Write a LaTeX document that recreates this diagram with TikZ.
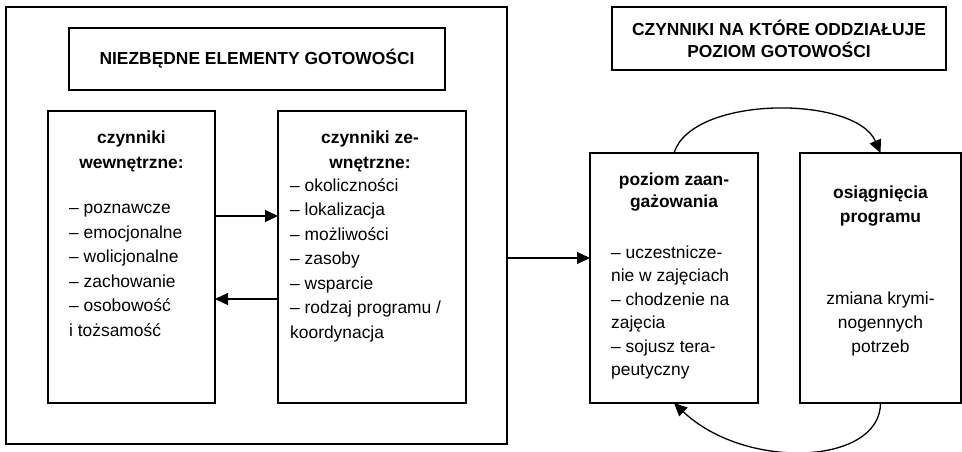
\documentclass[tikz,border=0pt]{standalone}
\usepackage{fontspec}
\setmainfont{Liberation Sans}
\usetikzlibrary{arrows.meta,positioning}

\begin{document}
\begin{tikzpicture}[x=1pt,y=-1pt,
  gotbox/.style={draw,line width=1.3pt,outer sep=0pt,inner sep=0pt},
  gotnag/.style={font=\fontsize{17.4pt}{24.5pt}\selectfont\bfseries,align=center,inner sep=0pt,anchor=base},
  gottxt/.style={font=\fontsize{17.4pt}{24.5pt}\selectfont,align=left,inner sep=0pt,anchor=base west},
  gotarr/.style={line width=1.3pt,-{Triangle[length=13pt,width=12pt]}}
]
  \useasboundingbox (0,0) rectangle (962,451);
  % Left part: essential elements of readiness
  \node[gotbox,minimum width=501pt,minimum height=437pt] (ramka) at (256.5,225.5) {};
  \node[gotbox,minimum width=376pt,minimum height=62pt,
    font=\fontsize{17.4pt}{22pt}\selectfont\bfseries] (tytul1) at (257,59) {NIEZBĘDNE ELEMENTY GOTOWOŚCI};
  \node[gotbox,minimum width=167pt,minimum height=292pt] (wew) at (131.5,257) {};
  \node[gotbox,minimum width=188pt,minimum height=292pt] (zew) at (372,257) {};
  % base anchor = last line
  \node[gotnag] (wewnag) at (131.5,168) {czynniki\\wewnętrzne:};
  \node[gottxt] (wewlista) at (69,336) {– poznawcze\\– emocjonalne\\– wolicjonalne\\– zachowanie\\– osobowość\\i tożsamość};
  \node[gotnag] (zewnag) at (370,168) {czynniki ze-\\wnętrzne:};
  \node[gottxt] (zewlista) at (290,338) {– okoliczności\\– lokalizacja\\– możliwości\\– zasoby\\– wsparcie\\– rodzaj programu /\\koordynacja};
  \draw[gotarr] ([yshift=41pt]wew.east) -- ([yshift=41pt]zew.west);
  \draw[gotarr] ([yshift=-42pt]zew.west) -- ([yshift=-42pt]wew.east);
  % Right part: factors influenced by readiness
  \node[gotbox,minimum width=334pt,minimum height=63pt,align=center,
    font=\fontsize{17.4pt}{22pt}\selectfont\bfseries] (tytul2) at (779,38.5) {CZYNNIKI NA KTÓRE ODDZIAŁUJE\\POZIOM GOTOWOŚCI};
  \node[gotbox,minimum width=168pt,minimum height=250pt] (zaang) at (674,278) {};
  \node[gotbox,minimum width=161pt,minimum height=250pt] (osiag) at (880.5,278) {};
  \node[gotnag,font=\fontsize{17.4pt}{22pt}\selectfont\bfseries] (zaangnag) at (674,207) {poziom zaan-\\gażowania};
  \node[gottxt,font=\fontsize{17.4pt}{23.5pt}\selectfont] (zaanglista) at (611,375.5) {– uczestnicze-\\nie w zajęciach\\– chodzenie na\\zajęcia\\– sojusz tera-\\peutyczny};
  \node[gotnag] (osiagnag) at (880.5,222.5) {osiągnięcia\\programu};
  \node[gotnag,font=\fontsize{17.4pt}{24pt}\selectfont] (osiagtxt) at (880.5,352) {zmiana krymi-\\nogennych\\potrzeb};
  \coordinate (wejscie) at ([yshift=20pt]zaang.west);
  \draw[gotarr] (ramka.east |- wejscie) -- (wejscie);
  \draw[gotarr] (zaang.north) .. controls +(18,-58) and +(-25,-58) .. (osiag.north);
  \draw[gotarr] (osiag.south) .. controls +(0,62) and +(72,68) .. (zaang.south);
\end{tikzpicture}
\end{document}
